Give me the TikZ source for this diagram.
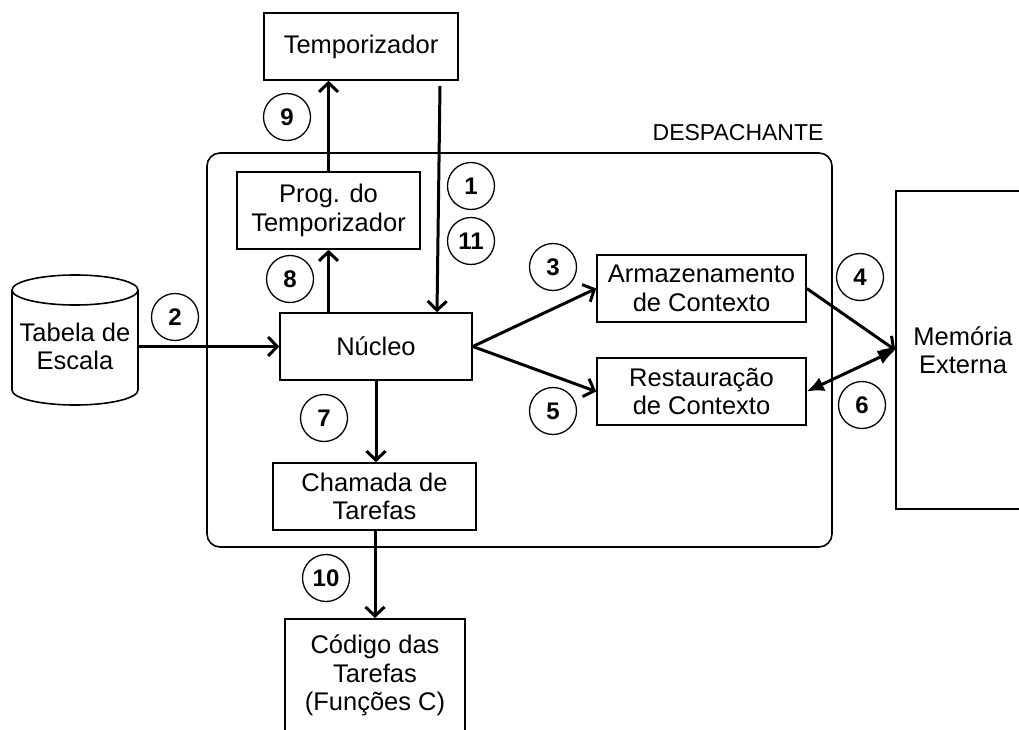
\documentclass[tikz,border=0pt]{standalone}
\usepackage{fontspec}
\setmainfont{Liberation Sans}
\usetikzlibrary{arrows.meta}

\tikzset{
  caixa/.style={draw, line width=1.6pt, inner sep=0pt, align=center,
    font=\fontsize{25.5}{28.5}\selectfont},
  passo/.style={draw, circle, line width=1.3pt, minimum size=47pt, inner sep=0pt,
    font=\fontsize{24}{26}\selectfont\bfseries},
  seta/.style={->, line width=3pt},
}

\begin{document}
\begin{tikzpicture}[x=1pt, y=-1pt, >={Straight Barb[length=9pt,width=19pt]}]
      \useasboundingbox (0,0) rectangle (1019,730);
      % \draw[help lines] (0,0) grid[step=50] (1019,730);

      \draw[line width=1.6pt, rounded corners=13pt] (207,153) rectangle (832,547);
      \node[anchor=east, font=\fontsize{23}{25}\selectfont] (desp) at (827,133) {DESPACHANTE};

      \node[caixa, minimum width=194, minimum height=67] (tempo) at (361,46.5) {Temporizador};
      \node[caixa, minimum width=183, minimum height=77] (prog) at (328.5,210.5) {Prog. do\\Temporizador};
      \node[caixa, minimum width=192, minimum height=67] (nucleo) at (376,346.5) {Núcleo};
      \node[caixa, minimum width=203, minimum height=67] (chamada) at (374.5,496.5) {Chamada de\\Tarefas};
      \node[caixa, minimum width=180, minimum height=114, anchor=north] (codigo) at (375,618) {Código das\\Tarefas\\(Funções C)};
      \node[caixa, minimum width=209, minimum height=67] (armaz) at (701.5,288.5) {Armazenamento\\de Contexto};
      \node[caixa, minimum width=209, minimum height=67] (rest) at (701.5,391.5) {Restauração\\de Contexto};
      \node[caixa, minimum width=134, minimum height=318] (mem) at (963,350) {Memória\\Externa};

      % cilindro
      \draw[line width=1.6pt] (75,290) ellipse [x radius=63, y radius=15];
      \draw[line width=1.6pt] (12,290) -- (12,390) arc[start angle=180, end angle=360, x radius=63, y radius=-15] -- (138,290);
      \node[caixa, draw=none, minimum width=126, minimum height=60] (tabela) at (75,346.5) {Tabela de\\Escala};

      \draw[seta] ([shift={(79,5)}]tempo.south) -- ([xshift=61pt]nucleo.north);
      \draw[seta] (tabela.east) -- (nucleo.west);
      \draw[seta] (nucleo.east) -- (armaz.west);
      \draw[seta] (armaz.east) -- (mem.west);
      \draw[seta] (nucleo.east) -- (rest.west);
      \draw[line width=3pt, {Latex[length=17pt,width=15pt]}-{Latex[length=17pt,width=15pt]}] (mem.west) -- (rest.east);
      \draw[seta] (nucleo.south) -- (nucleo.south |- chamada.north);
      \draw[seta] (nucleo.north -| prog.south) -- (prog.south);
      \draw[seta] (prog.north) -- (prog.north |- tempo.south);
      \draw[seta] (chamada.south -| codigo.north) -- (codigo.north);

      \node[passo] (p1) at (471,186) {1};
      \node[passo] (p2) at (175,317) {2};
      \node[passo] (p3) at (553,267) {3};
      \node[passo] (p4) at (860,277) {4};
      \node[passo] (p5) at (553,411) {5};
      \node[passo] (p6) at (862,405) {6};
      \node[passo] (p7) at (324,418) {7};
      \node[passo] (p8) at (290,279) {8};
      \node[passo] (p9) at (287,117) {9};
      \node[passo] (p10) at (326,578) {10};
      \node[passo] (p11) at (471,241) {11};

      \end{tikzpicture}
\end{document}
